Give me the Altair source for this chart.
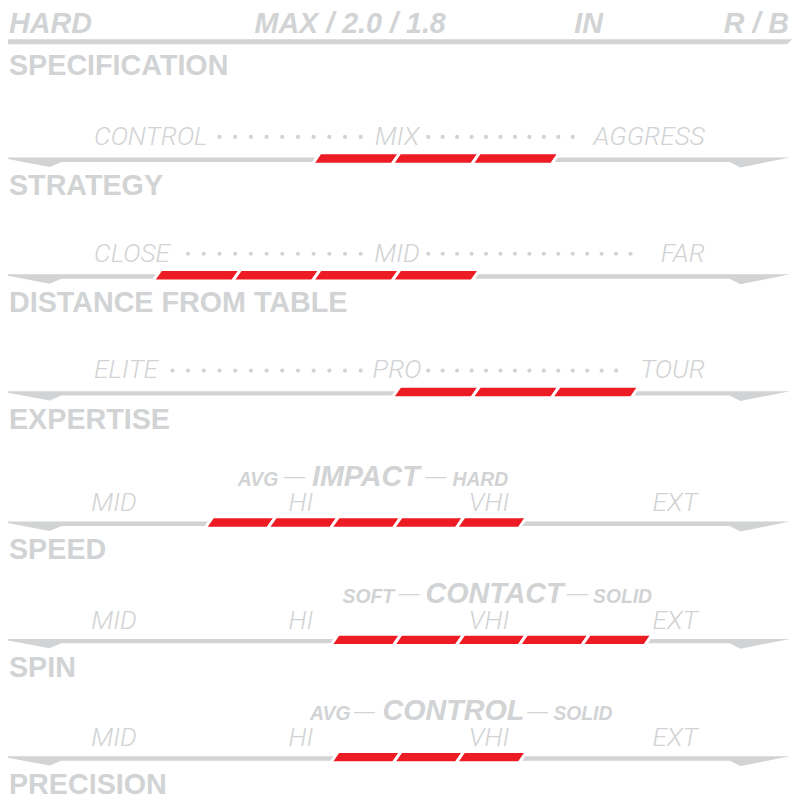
import altair as alt
import pandas as pd

# ---------------- data ----------------
header_labels = ["HARD", "MAX / 2.0 / 1.8", "IN", "R / B"]
section_title = ["SPECIFICATION"]
row_titles = ["STRATEGY", "DISTANCE FROM TABLE", "EXPERTISE", "SPEED", "SPIN", "PRECISION"]
coarse_left = ["CONTROL", "CLOSE", "ELITE"]
coarse_mid = ["MIX", "MID", "PRO"]
coarse_right = ["AGGRESS", "FAR", "TOUR"]
dots_left = [10, 12, 13]
dots_right = [11, 15, 14]
fine_labels = ["MID", "HI", "VHI", "EXT"]
sub_left = ["AVG", "SOFT", "AVG"]
sub_main = ["IMPACT", "CONTACT", "CONTROL"]
sub_right = ["HARD", "SOLID", "SOLID"]
rating_start = [3, 1, 4, 2, 4, 4]   # first lit slot on the row's scale
rating_count = [3, 4, 3, 5, 5, 3]   # number of lit slots

# ---------------- layout / style ----------------
GRAY = "#D1D3D4"
RED = "#ED1C24"
BOLD = "Liberation Sans"
LIGHT = "Roboto"
ROW_TOP = [151.7, 269.7, 387.7, 519.5, 638.0, 756.5]
GRID = [(75.0, 80.5)] * 3 + [(81.1, 63.43)] * 3
SEG_H = 11.5
SLANT = 8.0
HEADER_X = [9, 257, 580, 731]
HEADER_BASE = 29.5
SECTION_BASE = 72.0
FINE_X = [115.0, 304.0, 494.0, 682.0]
SUB_MAIN_X = [369.5, 499.5, 458.0]
SUB_LEFT_X = [281.0, 398.0, 354.0]
SUB_RIGHT_X = [457.0, 599.0, 559.0]
DASH_L = [297.5, 413.0, 368.0]
DASH_R = [440.0, 583.0, 543.0]

xs = alt.Scale(domain=[8, 800], range=[0, 792])
ys = alt.Scale(domain=[8, 800], range=[0, 792])


def pos():
    return dict(x=alt.X("x:Q", scale=xs, axis=None), y=alt.Y("y:Q", scale=ys, axis=None))


# shapes: header rule + gray bands
band_rows = [{"x": 400.0, "y": 38.0,
              "path": "M-400,2.5L-395,-2.5L400,-2.5L395,2.5Z"}]
band_path = "M-400,3.3L398,3.3L348,13.3L337,7.8L-338,7.8L-350,12.8Z"
for t in ROW_TOP:
    band_rows.append({"x": 400.0, "y": t, "path": band_path})
bands = pd.DataFrame(band_rows)

# red rating segments
seg_rows = []
for i, t in enumerate(ROW_TOP):
    x0, P = GRID[i]
    h = SEG_H
    s = SLANT
    path = (f"M{-P/2 - s/2:.2f},{h/2:.2f}L{-P/2 + s/2:.2f},{-h/2:.2f}"
            f"L{P/2 + s/2:.2f},{-h/2:.2f}L{P/2 - s/2:.2f},{h/2:.2f}Z")
    for k in range(rating_start[i], rating_start[i] + rating_count[i]):
        seg_rows.append({"x": x0 + P * (k + 0.5) + 3.0, "y": t + 4.25, "path": path})
segs = pd.DataFrame(seg_rows)

# dots
dot_rows = []
for i in range(3):
    yb = ROW_TOP[i] - 9.5 - 8.0
    for j in range(dots_left[i]):
        dot_rows.append({"x": 364.3 - 15.85 * j, "y": yb})
    for j in range(dots_right[i]):
        dot_rows.append({"x": 432.5 + 14.6 * j, "y": yb})
dots = pd.DataFrame(dot_rows)

header = pd.DataFrame({"x": HEADER_X, "y": [HEADER_BASE] * 4, "text": header_labels})
titles = pd.DataFrame({"x": [9.0] * 7,
                       "y": [SECTION_BASE] + [t + 41.5 for t in ROW_TOP],
                       "text": section_title + row_titles})
cl = pd.DataFrame({"x": [95.0] * 3, "y": [t - 9.5 for t in ROW_TOP[:3]], "text": coarse_left})
cm = pd.DataFrame({"x": [401.0] * 3, "y": [t - 9.5 for t in ROW_TOP[:3]], "text": coarse_mid})
cr = pd.DataFrame({"x": [712.0] * 3, "y": [t - 9.5 for t in ROW_TOP[:3]], "text": coarse_right})
fine = pd.DataFrame([{"x": FINE_X[j], "y": t - 7.0, "text": lab}
                     for t in ROW_TOP[3:] for j, lab in enumerate(fine_labels)])
sm = pd.DataFrame({"x": SUB_MAIN_X, "y": [t - 33.0 for t in ROW_TOP[3:]], "text": sub_main})
sl = pd.DataFrame({"x": SUB_LEFT_X, "y": [t - 33.0 for t in ROW_TOP[3:]], "text": sub_left})
sr = pd.DataFrame({"x": SUB_RIGHT_X, "y": [t - 33.0 for t in ROW_TOP[3:]], "text": sub_right})
dash = pd.DataFrame({"x": DASH_L + DASH_R,
                     "y": [t - 35.8 for t in ROW_TOP[3:]] * 2,
                     "text": ["\u2014"] * 6})

LABEL_SIZE = 26.5

layers = [
    alt.Chart(bands).mark_point(filled=True, fill=GRAY, strokeWidth=0, opacity=1, size=4)
    .encode(**pos(), shape=alt.Shape("path:N", scale=None)),
    alt.Chart(segs).mark_point(filled=True, fill=RED, stroke="white", strokeWidth=3,
                               strokeJoin="bevel", opacity=1, strokeOpacity=1, size=4)
    .encode(**pos(), shape=alt.Shape("path:N", scale=None)),
    alt.Chart(dots).mark_circle(color=GRAY, size=18, opacity=1).encode(**pos()),
    alt.Chart(header).mark_text(align="left", baseline="alphabetic", font=BOLD, fontSize=29,
                                fontWeight="bold", fontStyle="italic", color=GRAY)
    .encode(**pos(), text="text:N"),
    alt.Chart(titles).mark_text(align="left", baseline="alphabetic", font=BOLD, fontSize=29,
                                fontWeight="bold", color=GRAY)
    .encode(**pos(), text="text:N"),
]
for df, al in ((cl, "left"), (cm, "center"), (cr, "right")):
    layers.append(alt.Chart(df).mark_text(align=al, baseline="alphabetic", font=LIGHT, fontSize=LABEL_SIZE,
                                          fontWeight=300, fontStyle="italic", color=GRAY)
                  .encode(**pos(), text="text:N"))
layers.append(alt.Chart(fine).mark_text(align="center", baseline="alphabetic", font=LIGHT, fontSize=LABEL_SIZE,
                                        fontWeight=300, fontStyle="italic", color=GRAY)
              .encode(**pos(), text="text:N"))
layers.append(alt.Chart(sm).mark_text(align="center", baseline="alphabetic", font=BOLD, fontSize=29,
                                      fontWeight="bold", fontStyle="italic", color=GRAY)
              .encode(**pos(), text="text:N"))
layers.append(alt.Chart(sl).mark_text(align="right", baseline="alphabetic", font=BOLD, fontSize=19.5,
                                      fontWeight="bold", fontStyle="italic", color=GRAY)
              .encode(**pos(), text="text:N"))
layers.append(alt.Chart(sr).mark_text(align="left", baseline="alphabetic", font=BOLD, fontSize=19.5,
                                      fontWeight="bold", fontStyle="italic", color=GRAY)
              .encode(**pos(), text="text:N"))
layers.append(alt.Chart(dash).mark_text(align="center", baseline="alphabetic", font=BOLD, fontSize=21,
                                        color=GRAY)
              .encode(**pos(), text="text:N"))

chart = alt.layer(*layers).properties(
    width=792, height=792, padding=0,
    autosize=alt.AutoSizeParams(type="none"),
).configure_view(stroke=None)

chart.save("out.html", embed_options={"renderer": "svg", "actions": False})
